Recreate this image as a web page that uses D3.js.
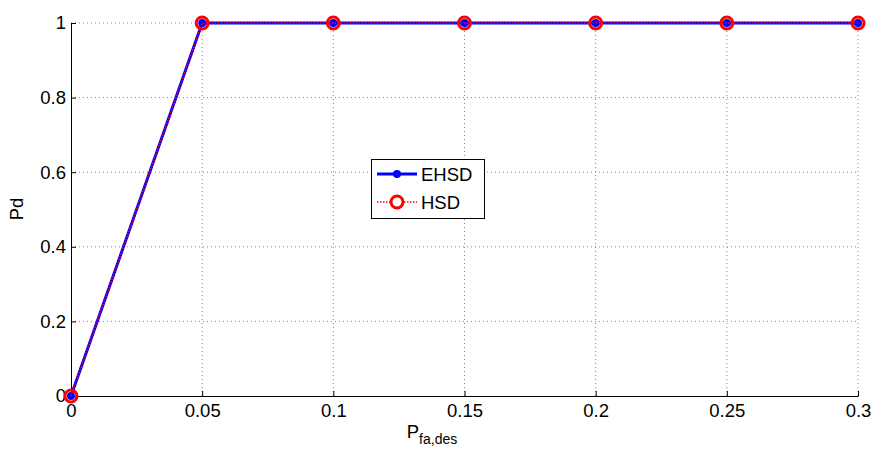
<!DOCTYPE html>
<html><head><meta charset="utf-8">
<script src="https://cdn.jsdelivr.net/npm/d3@7"></script>
<style>body{margin:0;background:#fff}text{font-family:"Liberation Sans",Arial,sans-serif}</style>
</head><body><svg id="c" width="875" height="453"></svg>
<script>
const pfa = [0, 0.05, 0.1, 0.15, 0.2, 0.25, 0.3];
const ehsd = [0, 1, 1, 1, 1, 1, 1];
const hsd = [0, 1, 1, 1, 1, 1, 1];
const xTicks = [0, 0.05, 0.1, 0.15, 0.2, 0.25, 0.3];
const yTicks = [0, 0.2, 0.4, 0.6, 0.8, 1];
const seriesNames = ["EHSD", "HSD"];

const svg = d3.select("#c");
const L = 71, R = 858, T = 23, B = 396;
const FS = 18.5;
const x = d3.scaleLinear().domain([0, 0.3]).range([L, R]);
const y = d3.scaleLinear().domain([0, 1]).range([B, T]);

// grid
const g = svg.append("g");
g.selectAll(".gx").data(xTicks.filter(d => d > 0)).enter().append("line")
  .attr("x1", d => x(d)).attr("x2", d => x(d)).attr("y1", T).attr("y2", B)
  .attr("stroke", "#888").attr("stroke-width", 1).attr("stroke-dasharray", "1,3");
g.selectAll(".gy").data(yTicks.filter(d => d > 0)).enter().append("line")
  .attr("y1", d => y(d)).attr("y2", d => y(d)).attr("x1", L).attr("x2", R)
  .attr("stroke", "#888").attr("stroke-width", 1).attr("stroke-dasharray", "1,3");

// axes
const fmt = d => d3.format("~g")(d);
const xa = svg.append("g").attr("transform", `translate(0,${B})`)
  .call(d3.axisBottom(x).tickValues(xTicks).tickFormat(fmt).tickSizeInner(-5).tickSizeOuter(0).tickPadding(8));
const ya = svg.append("g").attr("transform", `translate(${L},0)`)
  .call(d3.axisLeft(y).tickValues(yTicks).tickFormat(fmt).tickSizeInner(-5).tickSizeOuter(0).tickPadding(5));
[xa, ya].forEach(a => {
  a.select(".domain").attr("stroke", "#000").attr("stroke-width", 1);
  a.selectAll(".tick line").attr("stroke", "#000");
  a.selectAll("text").attr("font-size", FS).attr("fill", "#000").attr("font-family", '"Liberation Sans",Arial,sans-serif');
});

// series
const line = d3.line().x((d, i) => x(pfa[i])).y(d => y(d));
svg.append("path").datum(ehsd).attr("d", line).attr("fill", "none")
  .attr("stroke", "#0000ff").attr("stroke-width", 3);
svg.selectAll(".pe").data(ehsd).enter().append("circle")
  .attr("cx", (d, i) => x(pfa[i])).attr("cy", d => y(d)).attr("r", 4).attr("fill", "#0000ff");
svg.append("path").datum(hsd).attr("d", line).attr("fill", "none")
  .attr("stroke", "#ff0000").attr("stroke-width", 1.5).attr("stroke-dasharray", "1.5,1.5");
svg.selectAll(".ph").data(hsd).enter().append("circle")
  .attr("cx", (d, i) => x(pfa[i])).attr("cy", d => y(d)).attr("r", 6).attr("fill", "none")
  .attr("stroke", "#ff0000").attr("stroke-width", 3);

// labels
svg.append("text").attr("transform", "translate(23,209) rotate(-90)").attr("text-anchor", "middle")
  .attr("font-size", FS).text("Pd");
const xl = svg.append("text").attr("x", 432).attr("y", 438).attr("text-anchor", "middle").attr("font-size", FS);
xl.append("tspan").text("P");
xl.append("tspan").attr("font-size", 14).attr("dy", 6).text("fa,des");

// legend
const lg = svg.append("g");
lg.append("rect").attr("x", 371.5).attr("y", 159.5).attr("width", 113).attr("height", 59)
  .attr("fill", "#fff").attr("stroke", "#000").attr("stroke-width", 1);
const ly = [174, 202];
lg.append("line").attr("x1", 377).attr("x2", 417).attr("y1", ly[0]).attr("y2", ly[0])
  .attr("stroke", "#0000ff").attr("stroke-width", 3);
lg.append("circle").attr("cx", 397).attr("cy", ly[0]).attr("r", 4).attr("fill", "#0000ff");
lg.append("line").attr("x1", 377).attr("x2", 417).attr("y1", ly[1]).attr("y2", ly[1])
  .attr("stroke", "#ff0000").attr("stroke-width", 1.5).attr("stroke-dasharray", "1.5,1.5");
lg.append("circle").attr("cx", 397).attr("cy", ly[1]).attr("r", 6).attr("fill", "#fff")
  .attr("stroke", "#ff0000").attr("stroke-width", 3);
lg.selectAll(".lt").data(seriesNames).enter().append("text")
  .attr("x", 421).attr("y", (d, i) => ly[i] + 7).attr("font-size", FS).text(d => d);
</script></body></html>
